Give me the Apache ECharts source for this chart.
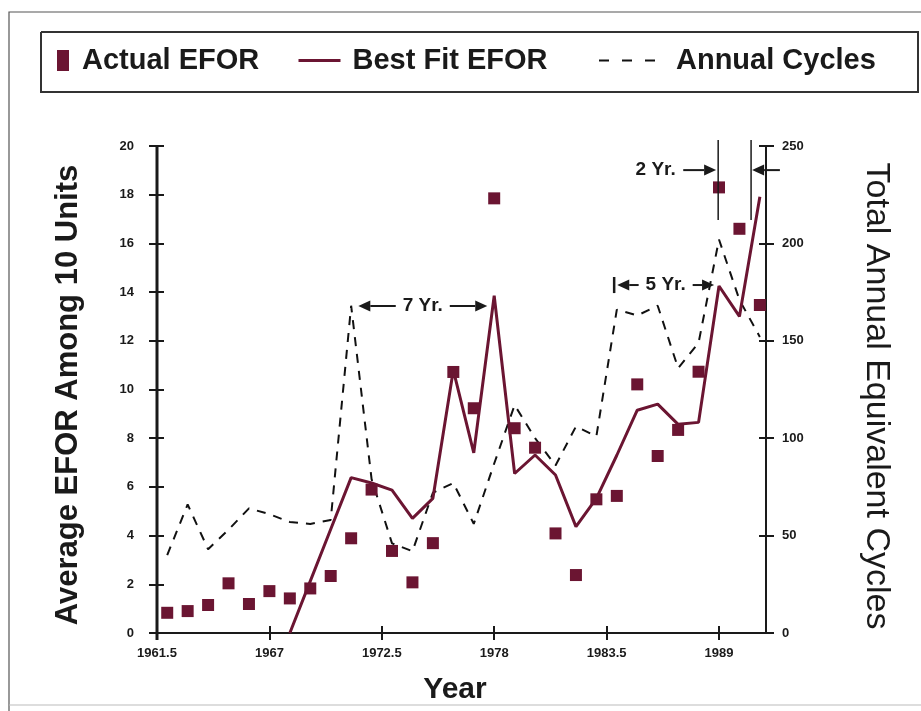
<!DOCTYPE html>
<html><head><meta charset="utf-8">
<script src="https://cdn.jsdelivr.net/npm/echarts@6/dist/echarts.min.js"></script>
<style>html,body{margin:0;padding:0;background:#fff}#c{width:921px;height:711px}</style>
</head><body><div id="c"></div>
<script>
// ---------------- data ----------------
const X0 = 1961.5; // first x tick (axis origin)
const xTickLabels = ['1961.5', '1967', '1972.5', '1978', '1983.5', '1989'];
const leftTicks = [0, 20, 2];     // min, max, step (EFOR)
const rightTicks = [0, 250, 50];  // min, max, step (cycles)

const actualYears = [1962,1963,1964,1965,1966,1967,1968,1969,1970,1971,1972,1973,1974,1975,1976,
                     1977,1978,1979,1980,1981,1982,1983,1984,1985,1986,1987,1988,1989,1990,1991];
const actualEFOR  = [0.83,0.90,1.15,2.04,1.19,1.72,1.42,1.83,2.34,3.89,5.89,3.37,2.08,3.69,10.72,
                     9.23,17.85,8.41,7.61,4.09,2.38,5.49,5.63,10.21,7.27,8.34,10.73,18.30,16.60,13.47];

const fitYears = [1968,1969,1970,1971,1972,1973,1974,1975,1976,1977,1978,1979,
                  1980,1981,1982,1983,1984,1985,1986,1987,1988,1989,1990,1991];
const fitEFOR  = [0.0,2.13,4.26,6.38,6.16,5.87,4.71,5.53,10.80,7.40,13.85,6.55,
                  7.31,6.49,4.37,5.53,7.30,9.15,9.40,8.57,8.65,14.25,13.00,17.92];

const cycleYears = [1962,1963,1964,1965,1966,1967,1968,1969,1970,1971,1972,1973,1974,1975,1976,
                    1977,1978,1979,1980,1981,1982,1983,1984,1985,1986,1987,1988,1989,1990,1991];
const annualCycles = [40,66,43,53,64,61,57,56,58,168,79,46,42,72,77,
                      56,87,117,100,86,106,101,166,163,168,136,149,202,171,152];

// annotation anchors in data units (year, EFOR)
const ann7 = { y: 13.43, from: 1971.35, to: 1977.66, text: '7 Yr.' };
const ann5 = { y: 14.29, from: 1984.02, to: 1988.76, bar: 1983.87, barTop: 14.62, barBot: 13.96, text: '5 Yr.' };
const ann2 = { y: 19.01, textAt: 1985.9, tail: 1987.25, head: 1988.86,
               v1: 1988.96, v2: 1990.57, vTop: 20.25, vBot: 16.96, tail2: 1991.98, head2: 1990.62, text: '2 Yr.' };

// ---------------- chart ----------------
const MAROON = '#6b1532';
const INK = '#1a1a1a';
const FONT = '"Liberation Sans", Arial, sans-serif';
const GRID = { left: 157, right: 155, top: 146, bottom: 78 };
const W = 921, H = 711;
const chart = echarts.init(document.getElementById('c'));

const xFmt = v => {
  const k = Math.round(v / 5.5);
  if (Math.abs(v - k * 5.5) > 1e-6) return '';
  return xTickLabels[k] !== undefined ? xTickLabels[k] : '';
};
const tickLab = { fontSize: 13, fontWeight: 'bold', color: INK, fontFamily: FONT };
const xMax = 29.8;

const legendBase = {
  top: 41, orient: 'horizontal', selectedMode: false,
  textStyle: { fontSize: 29, fontWeight: 'bold', color: INK, fontFamily: FONT }
};

chart.setOption({
  animation: false,
  backgroundColor: '#fff',
  grid: GRID,
  legend: [
    Object.assign({}, legendBase, { data: [{ name: 'Actual EFOR', icon: 'rect' }], left: 52, itemWidth: 12, itemHeight: 21,
      textStyle: Object.assign({}, legendBase.textStyle, { padding: [0, 0, 0, 8] }) }),
    Object.assign({}, legendBase, { data: ['Best Fit EFOR'], left: 292, itemWidth: 42, itemHeight: 14,
      itemStyle: { opacity: 0 }, lineStyle: { width: 3, color: MAROON },
      textStyle: Object.assign({}, legendBase.textStyle, { padding: [0, 0, 0, 7] }) }),
    Object.assign({}, legendBase, { data: ['Annual Cycles'], left: 593, itemWidth: 57, itemHeight: 14,
      itemStyle: { opacity: 0 }, lineStyle: { type: [10, 13], width: 2, color: '#111' },
      textStyle: Object.assign({}, legendBase.textStyle, { padding: [0, 0, 0, 15] }) })
  ],
  xAxis: [
    { type: 'value', min: 0, max: xMax, interval: 5.5, position: 'bottom',
      axisLine: { onZero: false, lineStyle: { color: INK, width: 2 } },
      axisTick: { length: 7, lineStyle: { color: INK, width: 2 } },
      axisLabel: Object.assign({ margin: 14, formatter: xFmt, showMaxLabel: false }, tickLab),
      splitLine: { show: false } },
    { type: 'value', min: 0, max: xMax, interval: 5.5, position: 'bottom',
      axisLine: { show: false, onZero: false }, axisLabel: { show: false }, splitLine: { show: false },
      axisTick: { inside: true, length: 7, lineStyle: { color: INK, width: 2 } } }
  ],
  yAxis: [
    { type: 'value', min: leftTicks[0], max: leftTicks[1], interval: leftTicks[2], position: 'left',
      axisLine: { show: true, onZero: false, lineStyle: { color: INK, width: 2 } },
      axisTick: { show: true, length: 8, lineStyle: { color: INK, width: 2 } },
      axisLabel: Object.assign({ margin: 23 }, tickLab), splitLine: { show: false } },
    { type: 'value', min: rightTicks[0], max: rightTicks[1], interval: rightTicks[2], position: 'right',
      axisLine: { show: true, onZero: false, lineStyle: { color: INK, width: 2 } },
      axisTick: { show: true, length: 8, lineStyle: { color: INK, width: 2 } },
      axisLabel: Object.assign({ margin: 16 }, tickLab), splitLine: { show: false } },
    { type: 'value', min: leftTicks[0], max: leftTicks[1], interval: leftTicks[2], position: 'left',
      axisLine: { show: false, onZero: false }, axisLabel: { show: false }, splitLine: { show: false },
      axisTick: { show: true, inside: true, length: 7, lineStyle: { color: INK, width: 2 } } },
    { type: 'value', min: rightTicks[0], max: rightTicks[1], interval: rightTicks[2], position: 'right',
      axisLine: { show: false, onZero: false }, axisLabel: { show: false }, splitLine: { show: false },
      axisTick: { show: true, inside: true, length: 7, lineStyle: { color: INK, width: 2 } } }
  ],
  series: [
    { name: 'Annual Cycles', type: 'line', xAxisIndex: 0, yAxisIndex: 1, symbol: 'none', z: 2,
      lineStyle: { color: '#111', width: 2, type: [9, 8] }, itemStyle: { color: '#111' },
      data: cycleYears.map((y, i) => [y - X0, annualCycles[i]]) },
    { name: 'Best Fit EFOR', type: 'line', xAxisIndex: 0, yAxisIndex: 0, symbol: 'none', z: 3,
      lineStyle: { color: MAROON, width: 3 }, itemStyle: { color: MAROON },
      data: fitYears.map((y, i) => [y - X0, fitEFOR[i]]) },
    { name: 'Actual EFOR', type: 'scatter', xAxisIndex: 0, yAxisIndex: 0, symbol: 'rect', symbolSize: 12, z: 4,
      itemStyle: { color: MAROON, opacity: 1 },
      data: actualYears.map((y, i) => [y - X0, actualEFOR[i]]) }
  ]
});

// ---------------- frame, titles, annotations ----------------
const P = (yr, v) => chart.convertToPixel({ xAxisIndex: 0, yAxisIndex: 0 }, [yr - X0, v]);
const lineEl = (a, b, w) => ({ type: 'line', shape: { x1: a[0], y1: a[1], x2: b[0], y2: b[1] },
  style: { stroke: INK, lineWidth: w || 2 }, z: 10 });
function arrowEls(a, b) {
  const head = 12, hw = 5.5;
  const dx = b[0] - a[0], dy = b[1] - a[1], L = Math.hypot(dx, dy), ux = dx / L, uy = dy / L;
  const bx = b[0] - ux * head, by = b[1] - uy * head;
  return [lineEl(a, [bx, by]),
    { type: 'polygon', z: 10, shape: { points: [[b[0], b[1]], [bx - uy * hw, by + ux * hw], [bx + uy * hw, by - ux * hw]] },
      style: { fill: INK } }];
}
const annText = (p, t) => ({ type: 'text', x: p[0], y: p[1], z: 11,
  style: { text: t, font: 'bold 19px ' + FONT, fill: INK, align: 'center', verticalAlign: 'middle' } });

const g = [];
// outer frame and legend box (stroke only)
g.push({ type: 'polyline', shape: { points: [[9, 711], [9, 12], [921, 12]] }, style: { fill: 'none', stroke: '#555', lineWidth: 1.2 }, silent: true });
g.push({ type: 'line', shape: { x1: 9, y1: 705, x2: 921, y2: 705 }, style: { stroke: '#bbb', lineWidth: 1 }, silent: true });
g.push({ type: 'polyline', shape: { points: [[41, 32], [918, 32], [918, 92], [41, 92], [41, 32]] }, style: { fill: 'none', stroke: '#333', lineWidth: 2 }, silent: true });
// left axis spine, placed from the grid layout constants
g.push({ type: 'rect', zlevel: 1, z: 50, silent: true,
  shape: { x: GRID.left - 1.5, y: GRID.top, width: 3, height: (H - GRID.bottom) - GRID.top + 7 }, style: { fill: INK } });
// axis titles
g.push({ type: 'text', x: 68, y: 395, rotation: Math.PI / 2, style: { text: 'Average EFOR Among 10 Units',
  font: 'bold 31px ' + FONT, fill: INK, align: 'center', verticalAlign: 'middle' } });
g.push({ type: 'text', x: 876, y: 396, rotation: -Math.PI / 2, style: { text: 'Total Annual Equivalent Cycles',
  font: '34px ' + FONT, fill: INK, align: 'center', verticalAlign: 'middle' } });
g.push({ type: 'text', x: 455, y: 690, style: { text: 'Year',
  font: 'bold 30px ' + FONT, fill: INK, align: 'center', verticalAlign: 'middle' } });

// 7 Yr
(function () {
  const a = P(ann7.from, ann7.y), b = P(ann7.to, ann7.y);
  const cx = (a[0] + b[0]) / 2, half = 27;
  g.push(...arrowEls([cx - half, a[1]], a), ...arrowEls([cx + half, a[1]], b), annText([cx, a[1]], ann7.text));
})();
// 5 Yr
(function () {
  const a = P(ann5.from, ann5.y), b = P(ann5.to, ann5.y);
  const cx = (a[0] + b[0]) / 2, half = 27;
  g.push(...arrowEls([cx - half, a[1]], a), ...arrowEls([cx + half, a[1]], b), annText([cx, a[1]], ann5.text));
  g.push(lineEl(P(ann5.bar, ann5.barTop), P(ann5.bar, ann5.barBot), 2.5));
})();
// 2 Yr
(function () {
  g.push(annText(P(ann2.textAt, ann2.y), ann2.text));
  g.push(...arrowEls(P(ann2.tail, ann2.y), P(ann2.head, ann2.y)));
  g.push(lineEl(P(ann2.v1, ann2.vTop), P(ann2.v1, ann2.vBot), 1.5));
  g.push(lineEl(P(ann2.v2, ann2.vTop), P(ann2.v2, ann2.vBot), 1.5));
  g.push(...arrowEls(P(ann2.tail2, ann2.y), P(ann2.head2, ann2.y)));
})();

chart.setOption({ graphic: g });
</script>
</body></html>
